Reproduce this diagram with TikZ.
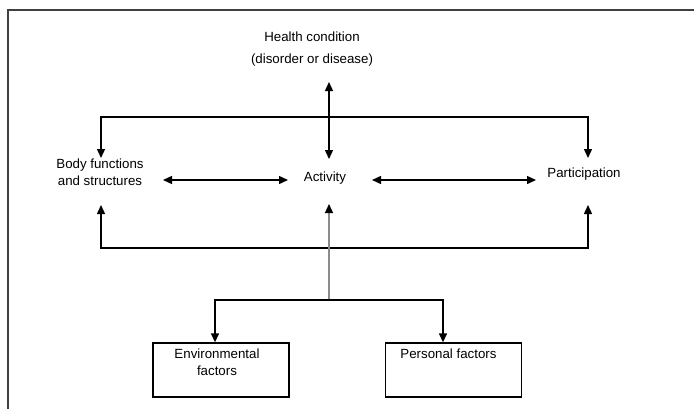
\documentclass[tikz,border=0pt]{standalone}
\usepackage{fontspec}
\setmainfont{Liberation Sans}
\usetikzlibrary{arrows.meta}
\begin{document}
\begin{tikzpicture}[x=1pt,y=-1pt,
  lbl/.style={inner sep=0pt,align=center,font=\fontsize{13.3}{17}\selectfont},
  box/.style={draw,line width=1.4pt,inner sep=0pt,minimum width=136pt,minimum height=54pt},
  link/.style={line width=1.4pt,{Triangle[length=9pt,width=8pt]}-{Triangle[length=9pt,width=8pt]}},
  uplink/.style={line width=1.4pt,draw=black!45,-{Triangle[length=9pt,width=8pt,color=black]}},
  frame/.style={draw=black!75,line width=1.5pt}]
\useasboundingbox (0,0) rectangle (694,408);
\clip (0,0) rectangle (694,408);
% outer frame, running off the page on the right and bottom
\draw[frame] (8,10) rectangle (720,440);
\draw[frame,line width=2.6pt] (8,10) -- (720,10);

% labels
\node[lbl] (health) at (312,49) {Health condition\\[5pt](disorder or disease)};
\node[lbl] (body) at (100,172) {Body functions\\and structures};
\node[lbl] (activity) at (325,178) {Activity};
\node[lbl] (particip) at (584,174) {Participation};

% factor boxes
\node[box] (env) at (221,370) {};
\node[box] (pers) at (453.5,370) {};
\node[lbl,anchor=north] (envtext) at ([xshift=-4pt,yshift=-6pt]env.north) {Environmental\\factors};
\node[lbl,anchor=north] (perstext) at ([xshift=-5pt,yshift=-6pt]pers.north) {Personal factors};

% arrow end points
\coordinate (hTop) at (329,82);
\coordinate (hBot) at (329,159);
\coordinate (bTop) at (101,158);
\coordinate (pTop) at (588,158);
\coordinate (bBot) at (101,205);
\coordinate (pBot) at (588,205);
\coordinate (aBot) at (329,204);
\coordinate (jn) at (329,300);
\coordinate (bE) at (163,180);
\coordinate (aW) at (288,180);
\coordinate (aE) at (372,180);
\coordinate (pW) at (536,180);

% health condition <-> activity
\draw[link] (hTop) -- (hBot);
% upper bracket
\draw[link] (bTop) -- (bTop |- 0,117) -- (pTop |- 0,117) -- (pTop);
% horizontal links
\draw[link] (bE) -- (aW);
\draw[link] (aE) -- (pW);
% lower bracket
\draw[link] (bBot) -- (bBot |- 0,248) -- (pBot |- 0,248) -- (pBot);
% contextual factors up to activity
\draw[uplink] (jn) -- (aBot);
% split to the two factor boxes
\draw[link] (env.north -| 215,0) -- (215,300) -- (443,300) -- (pers.north -| 443,0);
\end{tikzpicture}
\end{document}
